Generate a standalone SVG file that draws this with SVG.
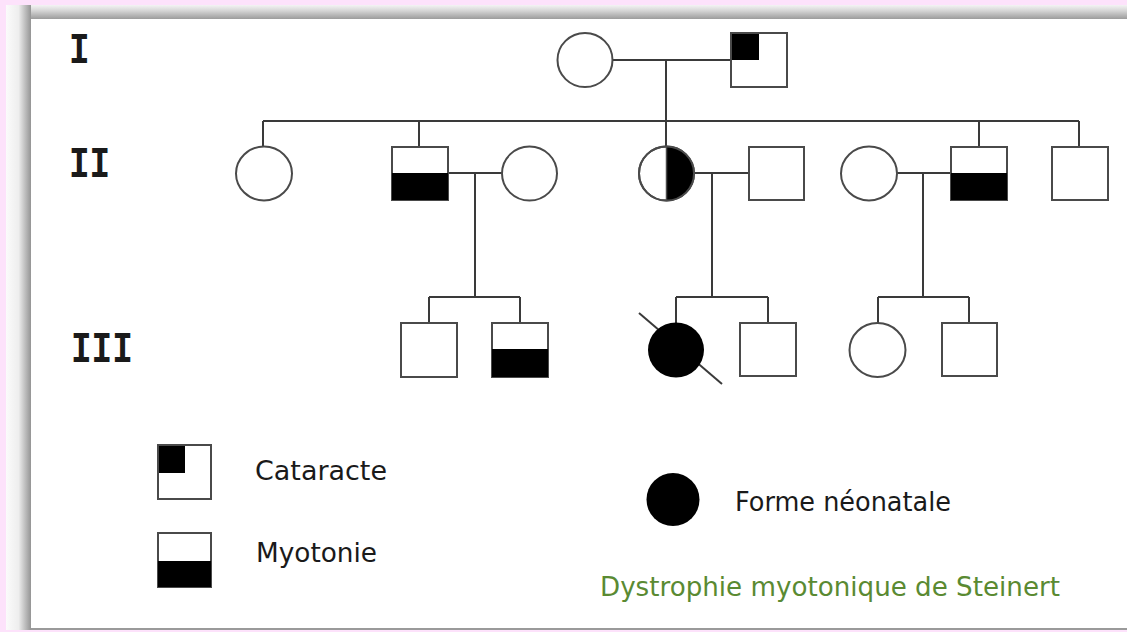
<svg xmlns="http://www.w3.org/2000/svg" width="1127" height="632" viewBox="0 0 1127 632">
<defs>
<linearGradient id="shL" x1="0" y1="0" x2="1" y2="0">
<stop offset="0" stop-color="#fbfbfb"/>
<stop offset="0.5" stop-color="#eeeeee"/>
<stop offset="1" stop-color="#949494"/>
</linearGradient>
<linearGradient id="shT" x1="0" y1="0" x2="0" y2="1">
<stop offset="0" stop-color="#f4f4f4"/>
<stop offset="0.4" stop-color="#d6d6d6"/>
<stop offset="1" stop-color="#9c9c9c"/>
</linearGradient>
<style>
.ln{stroke:#3a3a3a;stroke-width:2;fill:none}
.sh{stroke:#4a4a4a;stroke-width:2;fill:#fff}
.bk{fill:#000}
.gen{font-family:"Liberation Mono","DejaVu Sans Mono",monospace;font-weight:bold;font-size:44px;fill:#1a1a1a}
.lg{font-family:"DejaVu Sans","Liberation Sans",sans-serif;font-size:26px;fill:#1a1a1a}
.tt{font-family:"DejaVu Sans","Liberation Sans",sans-serif;font-size:26px;fill:#5a8a32}
</style>
</defs>
<rect width="1127" height="632" fill="#fde2fb"/>
<rect x="6" y="5" width="1121" height="625" fill="#f2f2f2"/>
<rect x="6" y="5" width="1121" height="14" fill="url(#shT)"/>
<rect x="6" y="5" width="25" height="625" fill="url(#shL)"/>
<rect x="31" y="19" width="1096" height="609" fill="#fff"/>
<rect x="31" y="628" width="1096" height="2" fill="#9a9a9a"/>

<g id="gen-labels">
<text class="gen" transform="translate(69 63) scale(0.78 1)">I</text>
<text class="gen" transform="translate(69 177) scale(0.78 1)">II</text>
<text class="gen" transform="translate(71 362) scale(0.78 1)">III</text>
</g>

<g id="connectors">
<path class="ln" d="M612 60H731M666 60V121M263 121H1079M263 121V147M419 121V147M666 121V147M979 121V147M1079 121V147"/>
<path class="ln" d="M448 173H502M475 173V297M429 297H520M429 297V323M520 297V323"/>
<path class="ln" d="M694 173H749M712 173V297M676 297H768M676 297V323M768 297V323"/>
<path class="ln" d="M897 173H951M923 173V297M878 297H969M878 297V323M969 297V323"/>
</g>

<g id="I-1"><ellipse class="sh" cx="585" cy="60" rx="27.5" ry="27"/></g>
<g id="I-2"><rect class="sh" x="731" y="33" width="56" height="54"/><rect class="bk" x="731" y="33" width="28" height="27"/><rect x="731" y="33" width="56" height="54" fill="none" stroke="#4a4a4a" stroke-width="2"/></g>

<g id="II-1"><ellipse class="sh" cx="264" cy="173.5" rx="28" ry="27"/></g>
<g id="II-2"><rect class="sh" x="392" y="147" width="56" height="53"/><rect class="bk" x="392" y="173" width="56" height="27"/></g>
<g id="II-3"><ellipse class="sh" cx="529.5" cy="173.5" rx="27.5" ry="27"/></g>
<g id="II-4"><ellipse class="sh" cx="666.5" cy="173.5" rx="27.5" ry="27"/><path class="bk" d="M666.5 146.5A27.5 27 0 0 1 666.5 200.5Z"/><ellipse cx="666.5" cy="173.5" rx="27.5" ry="27" fill="none" stroke="#4a4a4a" stroke-width="2"/><line x1="666.5" y1="146.5" x2="666.5" y2="200.5" stroke="#4a4a4a" stroke-width="1.5"/></g>
<g id="II-5"><rect class="sh" x="749" y="147" width="55" height="53"/></g>
<g id="II-6"><ellipse class="sh" cx="869" cy="173.5" rx="28" ry="27"/></g>
<g id="II-7"><rect class="sh" x="951" y="147" width="56" height="53"/><rect class="bk" x="951" y="173" width="56" height="27"/></g>
<g id="II-8"><rect class="sh" x="1052" y="147" width="56" height="53"/></g>

<g id="III-1"><rect class="sh" x="401" y="323" width="56" height="54"/></g>
<g id="III-2"><rect class="sh" x="492" y="323" width="56" height="54"/><rect class="bk" x="492" y="349" width="56" height="28"/></g>
<g id="III-3"><line x1="639" y1="313" x2="722" y2="384" stroke="#3a3a3a" stroke-width="2"/><ellipse class="bk" cx="676" cy="350" rx="28" ry="27.5"/></g>
<g id="III-4"><rect class="sh" x="740" y="323" width="56" height="53"/></g>
<g id="III-5"><ellipse class="sh" cx="877.5" cy="350" rx="28" ry="27"/></g>
<g id="III-6"><rect class="sh" x="942" y="323" width="55" height="53"/></g>

<g id="legend-cataracte"><rect class="sh" x="158" y="445" width="53" height="54"/><rect class="bk" x="158" y="445" width="27" height="28"/><rect x="158" y="445" width="53" height="54" fill="none" stroke="#4a4a4a" stroke-width="2"/><text class="lg" x="255" y="480" textLength="132" lengthAdjust="spacingAndGlyphs">Cataracte</text></g>
<g id="legend-myotonie"><rect class="sh" x="158" y="533" width="53" height="54"/><rect class="bk" x="158" y="561" width="53" height="26"/><text class="lg" x="256" y="562" textLength="121" lengthAdjust="spacingAndGlyphs">Myotonie</text></g>
<g id="legend-neonatale"><ellipse class="bk" cx="673" cy="499.5" rx="26.5" ry="26.5"/><text class="lg" x="735" y="511" textLength="216" lengthAdjust="spacingAndGlyphs">Forme néonatale</text></g>
<g id="title"><text class="tt" x="600" y="596" textLength="460" lengthAdjust="spacingAndGlyphs">Dystrophie myotonique de Steinert</text></g>
</svg>
